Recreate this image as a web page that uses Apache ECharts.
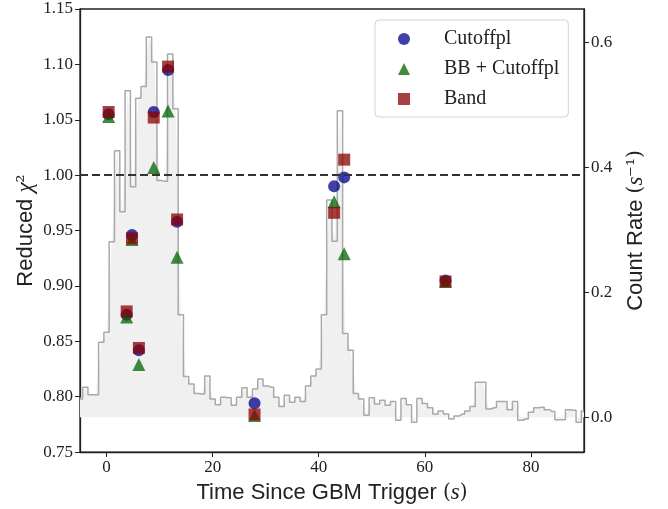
<!DOCTYPE html>
<html>
<head>
<meta charset="utf-8">
<script src="https://cdn.jsdelivr.net/npm/echarts@6/dist/echarts.min.js"></script>
<style>
html, body { margin: 0; padding: 0; background: #fff; }
#chart { width: 668px; height: 509px; }
</style>
</head>
<body>
<div id="chart"></div>
<script>
// light curve, 1 s bins (bin centres in s)
var binTimes = [-5, -4, -3, -2, -1, 0, 1, 2, 3, 4, 5, 6, 7, 8, 9, 10, 11, 12, 13, 14, 15, 16, 17, 18, 19,
	20, 21, 22, 23, 24, 25, 26, 27, 28, 29, 30, 31, 32, 33, 34, 35, 36, 37, 38, 39, 40, 41, 42, 43, 44,
	45, 46, 47, 48, 49, 50, 51, 52, 53, 54, 55, 56, 57, 58, 59, 60, 61, 62, 63, 64, 65, 66, 67, 68, 69,
	70, 71, 72, 73, 74, 75, 76, 77, 78, 79, 80, 81, 82, 83, 84, 85, 86, 87, 88, 89, 90];
var countRate = [0.029, 0.048, 0.036, 0.036, 0.120, 0.136, 0.281, 0.427, 0.329, 0.523, 0.369, 0.511, 0.530, 0.609, 0.569,
	0.379, 0.378, 0.582, 0.494, 0.164, 0.065, 0.053, 0.038, 0.037, 0.066,
	0.029, 0.020, 0.032, 0.031, 0.019, 0.032, 0.047, 0.032, 0.045, 0.061, 0.050, 0.048, 0.032, 0.017, 0.035,
	0.024, 0.032, 0.025, 0.050, 0.066, 0.077, 0.164, 0.348, 0.282, 0.491,
	0.134, 0.107, 0.038, 0.029, 0.003, 0.031, 0.021, 0.027, 0.019, 0.025, -0.005, 0.030, 0.020, -0.008, 0.030,
	0.022, 0.015, 0.005, 0.010, 0.005, -0.003, 0.002, 0.005, 0.010, 0.017,
	0.056, 0.056, 0.013, 0.015, 0.025, 0.025, 0.012, 0.025, -0.005, -0.003, 0.008, 0.015, 0.016, 0.012, 0.009,
	-0.004, -0.004, 0.012, 0.011, -0.008, 0.010];

// reduced chi2 per time interval
var fitTimes   = [0.4, 3.8, 4.8, 6.1, 8.9, 11.6, 13.3, 27.9, 42.9, 44.8, 63.9];
var cutoffpl   = [1.055, 0.874, 0.946, 0.842, 1.057, 1.095, 0.958, 0.794, 0.990, 0.998, 0.905];
var bbCutoffpl = [1.053, 0.872, 0.942, 0.829, 1.007, 1.058, 0.926, 0.783, 0.976, 0.929, 0.904];
var band       = [1.057, 0.877, 0.943, 0.844, 1.052, 1.098, 0.960, 0.784, 0.966, 1.014, 0.904];

var xTicks = [0, 20, 40, 60, 80];
var rateTicks = [0, 0.2, 0.4, 0.6];

function pairs(xs, ys) {
	var out = [];
	for (var i = 0; i < ys.length; i++) out.push([xs[i], ys[i]]);
	return out;
}

var serif = 'Liberation Serif';
var sans = 'Liberation Sans';
var ink = '#222';
var nameRich = {
	a: { fontFamily: sans, fontSize: 22, color: ink },
	m: { fontFamily: serif, fontStyle: 'italic', fontSize: 23, color: ink },
	p: { fontFamily: 'DejaVu Serif', fontSize: 20, color: ink }
};

var myChart = echarts.init(document.getElementById('chart'));
var histData = pairs(binTimes, countRate);

var option = {
	animation: false,
	backgroundColor: '#fff',
	grid: {
		left: 80, right: 84, top: 9, bottom: 54,
		show: true, borderColor: ink, borderWidth: 1.3
	},
	legend: {
		data: ['Cutoffpl', 'BB + Cutoffpl', 'Band'],
		orient: 'vertical',
		left: 375, top: 20,
		padding: [8, 9, 7, 23],
		itemWidth: 12, itemHeight: 12, itemGap: 8,
		backgroundColor: '#fff',
		borderColor: '#d4d4d4', borderWidth: 1, borderRadius: 4,
		textStyle: { fontFamily: serif, fontSize: 20, color: ink, lineHeight: 22, padding: [0, 0, 0, 29] }
	},
	xAxis: {
		type: 'value',
		min: -5, max: 90,
		name: '{a|Time Since GBM Trigger }{p|(}{m|s}{p|)}',
		nameLocation: 'middle', nameGap: 23,
		nameTextStyle: { rich: nameRich },
		axisLine: { onZero: false, lineStyle: { color: ink, width: 1.3 } },
		axisTick: { customValues: xTicks, length: 5, lineStyle: { color: ink } },
		axisLabel: { customValues: xTicks, fontFamily: serif, fontSize: 17, color: ink, margin: 7 },
		splitLine: { show: false }
	},
	yAxis: [{
		type: 'value',
		min: 0.75, max: 1.15, interval: 0.05,
		name: '{a|Reduced }{m|χ}{p|²}',
		nameLocation: 'middle', nameGap: 43, nameRotate: 90,
		nameMoveOverlap: false,
		nameTextStyle: { rich: nameRich },
		axisLine: { show: true, onZero: false, lineStyle: { color: ink, width: 1.3 } },
		axisTick: { show: true, length: 5, lineStyle: { color: ink } },
		axisLabel: {
			fontFamily: serif, fontSize: 17, color: ink, margin: 7,
			formatter: function (v) { return v.toFixed(2); }
		},
		splitLine: { show: false }
	}, {
		type: 'value',
		position: 'right',
		min: -0.056, max: 0.654,
		name: '{a|Count Rate }{p|(}{m|s}{p|⁻¹)}',
		nameLocation: 'middle', nameGap: 40, nameRotate: 90,
		nameTextStyle: { rich: nameRich },
		axisLine: { show: true, onZero: false, lineStyle: { color: ink, width: 1.3 } },
		axisTick: { show: true, customValues: rateTicks, length: 5, lineStyle: { color: ink } },
		axisLabel: {
			customValues: rateTicks, fontFamily: serif, fontSize: 17, color: ink, margin: 7,
			formatter: function (v) { return v.toFixed(1); }
		},
		splitLine: { show: false }
	}],
	series: [{
		// smoothed fill under the light curve
		type: 'line',
		yAxisIndex: 1,
		data: histData,
		symbol: 'none',
		silent: true,
		lineStyle: { width: 0 },
		areaStyle: { color: '#f0f0f0', opacity: 1 },
		z: 1
	}, {
		type: 'line',
		yAxisIndex: 1,
		data: histData,
		step: 'middle',
		symbol: 'none',
		silent: true,
		lineStyle: { color: '#a9a9a9', width: 1.5 },
		z: 1
	}, {
		name: 'Cutoffpl',
		type: 'scatter',
		data: pairs(fitTimes, cutoffpl),
		symbol: 'circle',
		symbolSize: 12,
		itemStyle: { color: '#00008b', opacity: 0.75 },
		markLine: {
			silent: true,
			symbol: ['none', 'none'],
			label: { show: false },
			lineStyle: { color: '#333', width: 1.8, type: [8, 4] },
			data: [{ yAxis: 1.0 }]
		},
		z: 3
	}, {
		name: 'BB + Cutoffpl',
		type: 'scatter',
		data: pairs(fitTimes, bbCutoffpl),
		symbol: 'triangle',
		symbolSize: 13,
		itemStyle: { color: '#006400', opacity: 0.75 },
		z: 3
	}, {
		name: 'Band',
		type: 'scatter',
		data: pairs(fitTimes, band),
		symbol: 'rect',
		symbolSize: 12,
		itemStyle: { color: '#8b0000', opacity: 0.75 },
		z: 3
	}]
};

myChart.setOption(option);
</script>
</body>
</html>
